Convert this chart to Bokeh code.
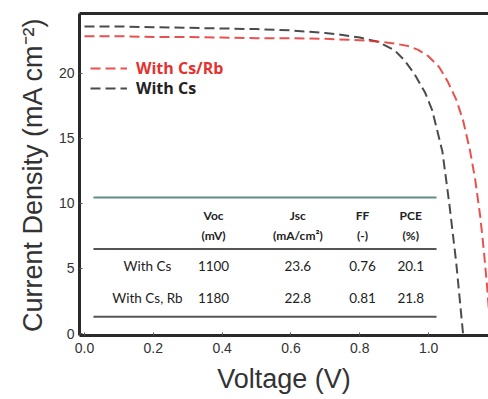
from bokeh.plotting import figure
from bokeh.models import Range1d, LinearAxis, FixedTicker, Legend, LegendItem
from bokeh.core.properties import value
from bokeh.embed import file_html
from bokeh.resources import INLINE

# J-V data
v_cs = [0.0, 0.1, 0.2, 0.3, 0.4, 0.5, 0.6, 0.7, 0.75, 0.8, 0.85, 0.9, 0.93, 0.96, 0.99, 1.01, 1.04, 1.06, 1.08, 1.10]
j_cs = [23.6, 23.6, 23.55, 23.5, 23.45, 23.4, 23.3, 23.1, 22.95, 22.75, 22.45, 21.8, 21.0, 19.9, 18.5, 17.2, 14.0, 10.0, 5.5, 0.0]

v_rb = [0.0, 0.1, 0.2, 0.3, 0.4, 0.5, 0.6, 0.7, 0.8, 0.85, 0.9, 0.94, 0.97, 1.0, 1.03, 1.055, 1.08, 1.10, 1.12, 1.135, 1.15, 1.16, 1.17, 1.178]
j_rb = [22.85, 22.85, 22.8, 22.8, 22.75, 22.7, 22.7, 22.65, 22.55, 22.45, 22.3, 22.1, 21.8, 21.3, 20.5, 19.4, 18.0, 16.4, 14.1, 11.9, 9.0, 6.5, 3.6, 0.8]

# table contents
tbl_rows = ["With Cs", "With Cs, Rb"]
tbl_head1 = ["Voc", "Jsc", "FF", "PCE"]
tbl_head2 = ["(mV)", "(mA/cm²)", "(-)", "(%)"]
tbl_voc = ["1100", "1180"]
tbl_jsc = ["23.6", "22.8"]
tbl_ff = ["0.76", "0.81"]
tbl_pce = ["20.1", "21.8"]

x_ticks = [0.0, 0.2, 0.4, 0.6, 0.8, 1.0]
x_tick_labels = ["0.0", "0.2", "0.4", "0.6", "0.8", "1.0"]
y_ticks = [0, 5, 10, 15, 20]

p = figure(width=488, height=399, output_backend="svg", toolbar_location=None,
           x_range=Range1d(-0.0145, 1.174), y_range=Range1d(-0.15, 24.6),
           min_border_left=79, min_border_top=13, min_border_right=0, min_border_bottom=64)
p.outline_line_color = None
p.grid.visible = False
p.background_fill_color = "white"

AX = "Liberation Sans"
for ax in (p.xaxis[0], p.yaxis[0]):
    ax.axis_line_width = 3
    ax.axis_line_color = "#2a2a2a"
    ax.major_tick_in = 3
    ax.major_tick_out = 0
    ax.minor_tick_in = 0
    ax.minor_tick_out = 0
    ax.major_tick_line_color = "#555"
    ax.major_label_text_font = AX
    ax.major_label_text_font_size = "14px"
    ax.major_label_text_color = "#333"
    ax.axis_label_text_font = AX
    ax.axis_label_text_font_size = "27px"
    ax.axis_label_text_font_style = "normal"
    ax.axis_label_text_color = "#333"

p.xaxis.ticker = FixedTicker(ticks=x_ticks)
p.xaxis.major_label_overrides = {t: l for t, l in zip(x_ticks, x_tick_labels)}
p.yaxis.ticker = FixedTicker(ticks=y_ticks)
p.xaxis.axis_label = "Voltage (V)"
p.yaxis.axis_label = "Current Density (mA cm⁻²)"
p.xaxis.major_label_standoff = 7
p.xaxis.axis_label_standoff = 8
p.yaxis.major_label_standoff = 5
p.yaxis.axis_label_standoff = 8

top = LinearAxis(ticker=FixedTicker(ticks=[]), axis_line_width=3, axis_line_color="#2a2a2a",
                 major_label_text_font_size="0px", major_tick_in=0, major_tick_out=0,
                 minor_tick_in=0, minor_tick_out=0)
p.add_layout(top, "above")

# table
col_x = [0.375, 0.62, 0.808, 0.948]
p.segment(x0=[0.026], y0=[10.45], x1=[1.023], y1=[10.45], line_color="#5f8d8a", line_width=2)
p.segment(x0=[0.026, 0.026], y0=[6.5, 1.3], x1=[1.023, 1.023], y1=[6.5, 1.3], line_color="#555", line_width=2)
TF = value("Lato")
p.text(x=col_x, y=[9.1] * 4, text=tbl_head1, text_font=TF, text_font_size="12px",
       text_font_style="bold", text_align="center", text_baseline="middle", text_color="#222")
p.text(x=col_x, y=[7.55] * 4, text=tbl_head2, text_font=TF, text_font_size="12px",
       text_font_style="bold", text_align="center", text_baseline="middle", text_color="#222")
row_y = [5.2, 2.75]
p.text(x=[0.183] * 2, y=row_y, text=tbl_rows, text_font=TF, text_font_size="13.5px",
       text_align="center", text_baseline="middle", text_color="#222")
for cx, vals in zip(col_x, [tbl_voc, tbl_jsc, tbl_ff, tbl_pce]):
    p.text(x=[cx] * 2, y=row_y, text=vals, text_font=TF, text_font_size="13.5px",
           text_align="center", text_baseline="middle", text_color="#222")

# curves
r_cs = p.line(v_cs, j_cs, line_color="#2b2b2b", line_width=2, line_dash="10 5", line_alpha=0.85)
r_rb = p.line(v_rb, j_rb, line_color="#e4322f", line_width=2, line_dash="10 5", line_alpha=0.85)

leg_rb = Legend(items=[LegendItem(label="With Cs/Rb", renderers=[r_rb])], location=(11, 256),
                label_text_color="#e4322f")
leg_cs = Legend(items=[LegendItem(label="With Cs", renderers=[r_cs])], location=(11, 236),
                label_text_color="#222")
for lg in (leg_rb, leg_cs):
    lg.background_fill_alpha = 0
    lg.border_line_color = None
    lg.padding = 0
    lg.margin = 0
    lg.spacing = 0
    lg.glyph_width = 37
    lg.glyph_height = 16
    lg.label_height = 16
    lg.label_standoff = 9
    lg.label_text_font = "Open Sans"
    lg.label_text_font_size = "16px"
    lg.label_text_font_style = "bold"
    p.add_layout(lg, "center")

open("out.html", "w").write(file_html(p, INLINE))
